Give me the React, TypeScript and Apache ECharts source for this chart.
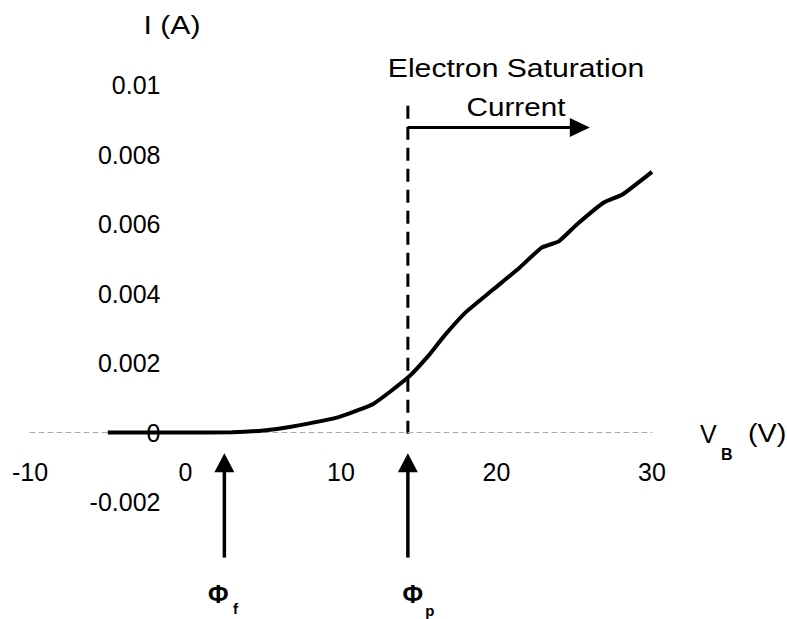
import React, { useEffect, useRef } from "react";
import * as echarts from "echarts";

// Probe bias voltage V_B (V) and collected current I (A)
const voltage = [-5, 0, 3, 5, 6.7, 9.9, 12.1, 14.3, 15.7, 16.6, 18, 19.8, 21.5, 22.9, 24, 25.2, 26.9, 28.1, 30];
const current = [0, 0, 0.00001, 0.00006, 0.00016, 0.00045, 0.00083, 0.00158, 0.00225, 0.00276, 0.00345, 0.00412, 0.00475, 0.00532, 0.0055, 0.006, 0.00662, 0.00685, 0.0075];

// axis ranges
const xRange = { min: -10, max: 30, interval: 10 };
const yRange = { min: -0.002, max: 0.01, interval: 0.002 };

// annotation positions (data units)
const PHI_F = 2.5; // floating potential
const PHI_P = 14.3; // plasma potential
const DASH_TOP = 0.0094;
const DASH_BOTTOM = -0.0002;
const SAT_ARROW_Y = 0.00878;
const SAT_ARROW_END = 26.0;
const UP_ARROW_TIP = -0.0006;
const UP_ARROW_TAIL = -0.0036;

const FONT = "'Liberation Sans', Arial, Helvetica, sans-serif";
const INK = "#000";

const GRID = { left: 30, right: 135, top: 85, bottom: 117 };
const W = 787;
const H = 619;

export default function App() {
  const ref = useRef<HTMLDivElement>(null);

  useEffect(() => {
    if (!ref.current) return;
    const chart = echarts.init(ref.current, null, { renderer: "svg" });
    const fmt = (v: number) => String(parseFloat(v.toFixed(4)));
    // place the axes through the origin (x = 0, y = 0) via offsets
    const gw = W - GRID.left - GRID.right;
    const gh = H - GRID.top - GRID.bottom;
    const yAxisOffset = -((0 - xRange.min) / (xRange.max - xRange.min)) * gw;
    const xAxisOffset = -((0 - yRange.min) / (yRange.max - yRange.min)) * gh;
    chart.setOption({
      animation: false,
      backgroundColor: "#fff",
      grid: { ...GRID, containLabel: false, outerBoundsMode: "none" },
      xAxis: {
        type: "value",
        position: "bottom",
        offset: xAxisOffset,
        min: xRange.min,
        max: xRange.max,
        interval: xRange.interval,
        axisLine: { show: true, onZero: false, lineStyle: { color: "#aaa", width: 1, type: [5, 4] } },
        axisTick: { show: false },
        splitLine: { show: false },
        axisLabel: { fontSize: 25, color: INK, margin: 27, fontFamily: FONT, formatter: fmt },
      },
      yAxis: {
        type: "value",
        position: "left",
        offset: yAxisOffset,
        min: yRange.min,
        max: yRange.max,
        interval: yRange.interval,
        axisLine: { show: false, onZero: false },
        axisTick: { show: false },
        splitLine: { show: false },
        axisLabel: { fontSize: 25, color: INK, margin: 25, fontFamily: FONT, formatter: fmt },
      },
      series: [
        {
          type: "line",
          data: voltage.map((v, i) => [v, current[i]]),
          symbol: "none",
          smooth: 0.15,
          lineStyle: { color: INK, width: 4 },
        },
      ],
    });

    const px = (x: number, y: number) => chart.convertToPixel({ gridIndex: 0 }, [x, y]) as number[];

    const upArrow = (xv: number) => {
      const [x, yTip] = px(xv, UP_ARROW_TIP);
      const [, yTail] = px(xv, UP_ARROW_TAIL);
      return [
        { type: "line", shape: { x1: x, y1: yTail, x2: x, y2: yTip + 15 }, style: { stroke: INK, lineWidth: 3.5 } },
        { type: "polygon", shape: { points: [[x, yTip], [x - 10, yTip + 19], [x + 10, yTip + 19]] }, style: { fill: INK } },
      ];
    };

    const [dx, dTop] = px(PHI_P, DASH_TOP);
    const [, dBot] = px(PHI_P, DASH_BOTTOM);
    const [, ay] = px(PHI_P, SAT_ARROW_Y);
    const [aEnd] = px(SAT_ARROW_END, SAT_ARROW_Y);
    const [fx] = px(PHI_F, 0);
    const [ppx] = px(PHI_P, 0);

    const txt = (text: string, x: number, y: number, size: number, extra: any = {}) => ({
      type: "text",
      x,
      y,
      scaleX: extra.scaleX ?? 1,
      style: {
        text,
        fontSize: size,
        fontFamily: FONT,
        fontWeight: extra.weight ?? "normal",
        fill: INK,
        textAlign: extra.align ?? "center",
        textVerticalAlign: "middle",
      },
    });

    chart.setOption({
      graphic: [
        { type: "line", shape: { x1: dx, y1: dTop, x2: dx, y2: dBot }, style: { stroke: INK, lineWidth: 3, lineDash: [13, 8] } },
        { type: "line", shape: { x1: dx, y1: ay, x2: aEnd - 16, y2: ay }, style: { stroke: INK, lineWidth: 3 } },
        { type: "polygon", shape: { points: [[aEnd, ay], [aEnd - 20, ay - 9.5], [aEnd - 20, ay + 9.5]] }, style: { fill: INK } },
        ...upArrow(PHI_F),
        ...upArrow(PHI_P),
        txt("Φ", fx - 6, 594, 25, { weight: "bold" }),
        txt("f", fx + 11, 608, 15, { weight: "bold" }),
        txt("Φ", ppx + 5, 594, 25, { weight: "bold" }),
        txt("p", ppx + 22, 610, 15, { weight: "bold" }),
        txt("Electron Saturation", 516, 68, 26, { scaleX: 1.16 }),
        txt("Current", 516, 107, 26, { scaleX: 1.14 }),
        txt("I (A)", 172, 25, 26, { scaleX: 1.16 }),
        txt("V", 700, 434, 25, { align: "left" }),
        txt("B", 721, 454, 16, { align: "left", weight: "bold" }),
        txt("(V)", 748, 434, 25, { align: "left", scaleX: 1.15 }),
      ],
    });

    return () => chart.dispose();
  }, []);

  return <div ref={ref} style={{ position: "absolute", left: 0, top: 0, width: W, height: H }} />;
}
